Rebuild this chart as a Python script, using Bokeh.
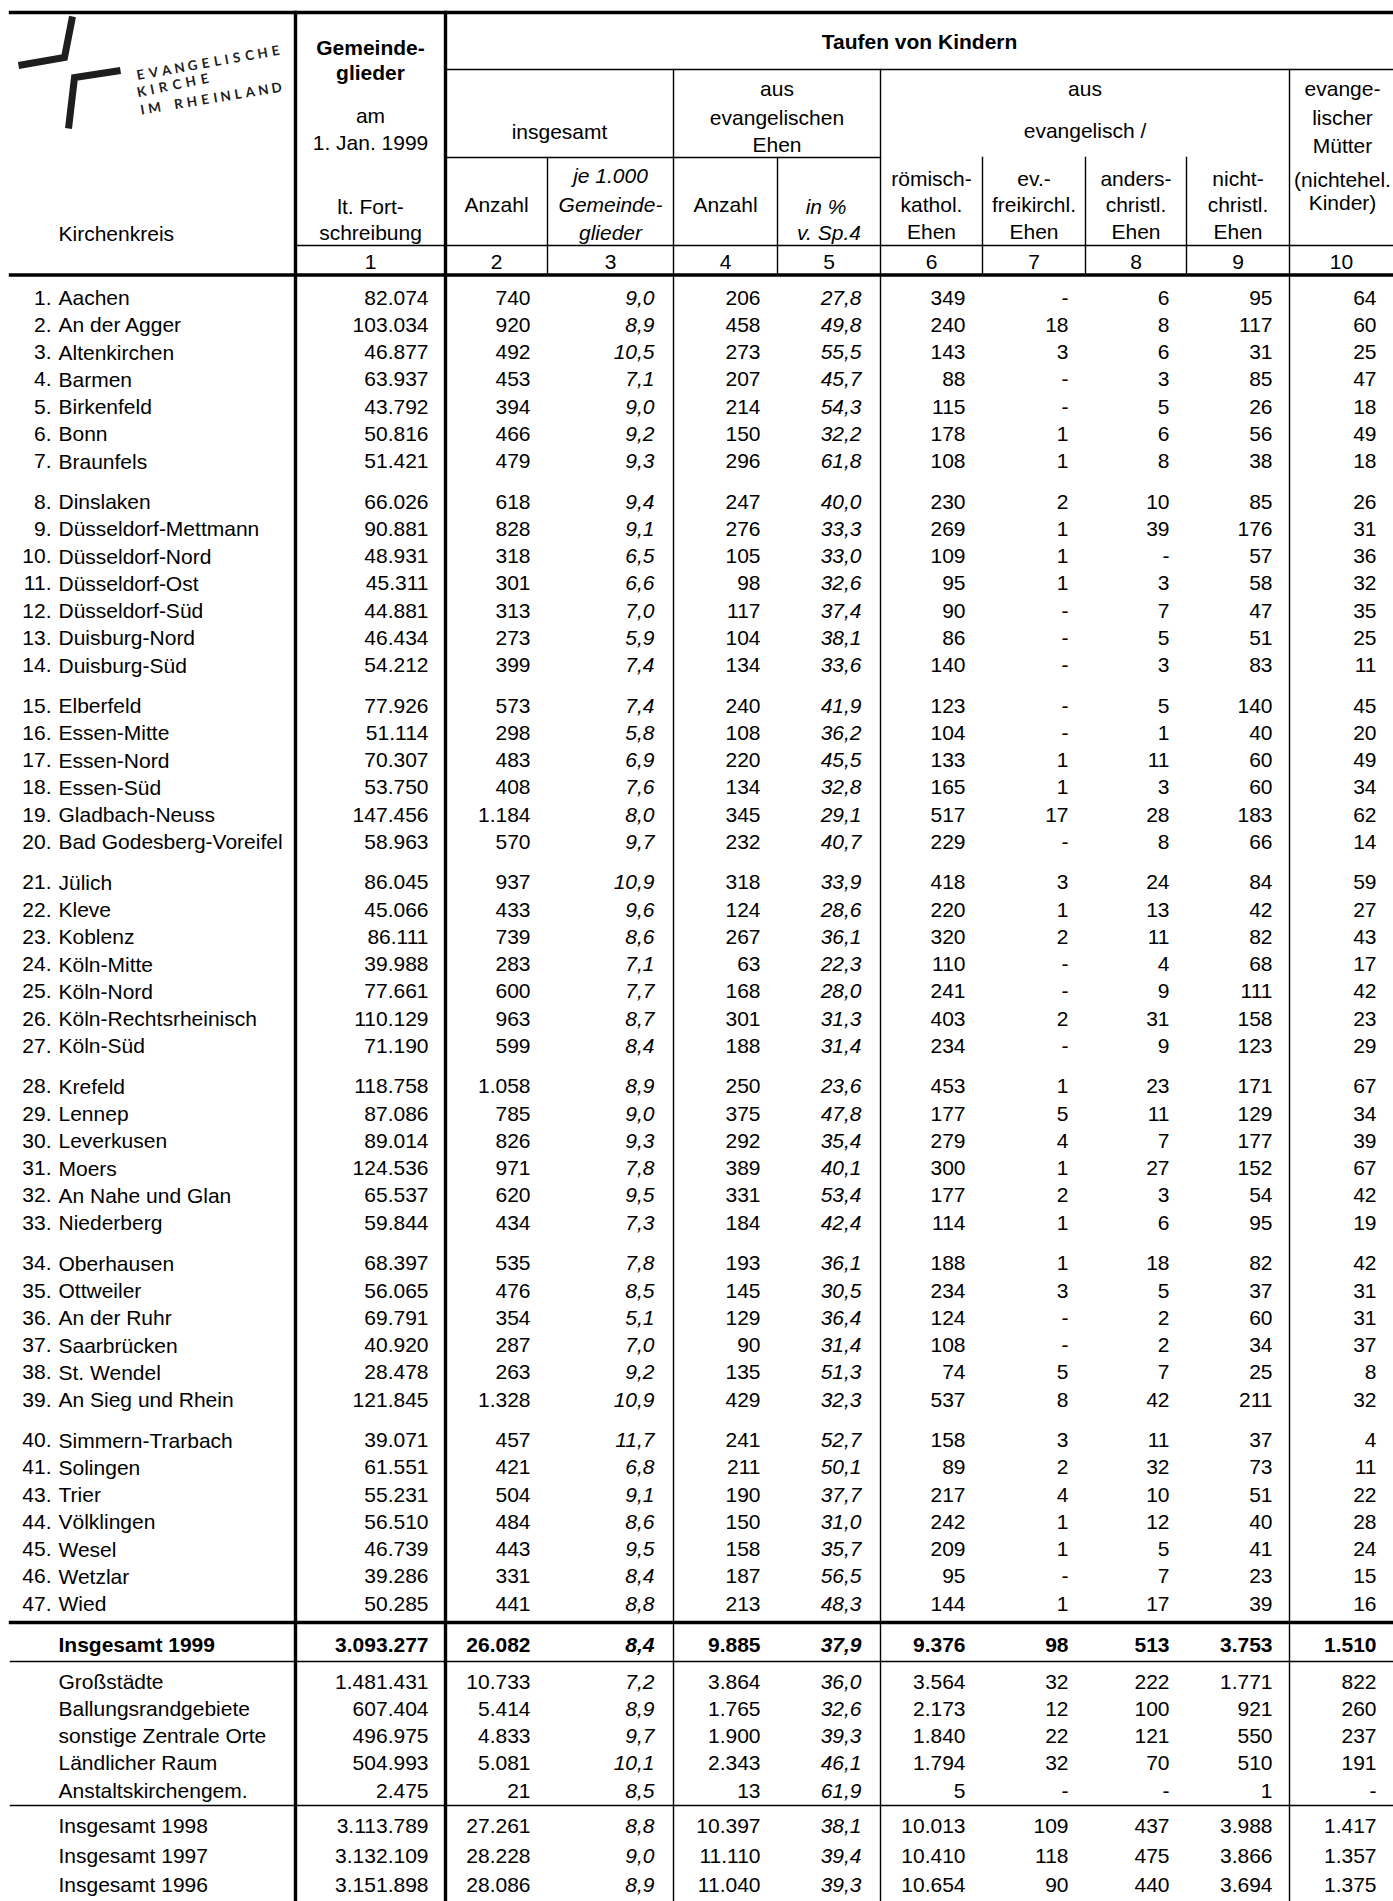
import math
from bokeh.plotting import figure
from bokeh.models import Range1d, ColumnDataSource
from bokeh.core.properties import value
from bokeh.embed import file_html
from bokeh.resources import INLINE

# ---------------- data ----------------
kreis_nr = [1, 2, 3, 4, 5, 6, 7, 8, 9, 10, 11, 12, 13, 14, 15, 16, 17, 18, 19, 20,
            21, 22, 23, 24, 25, 26, 27, 28, 29, 30, 31, 32, 33, 34, 35, 36, 37, 38, 39,
            40, 41, 43, 44, 45, 46, 47]
kreis_name = ["Aachen", "An der Agger", "Altenkirchen", "Barmen", "Birkenfeld", "Bonn", "Braunfels",
              "Dinslaken", "Düsseldorf-Mettmann", "Düsseldorf-Nord", "Düsseldorf-Ost", "Düsseldorf-Süd",
              "Duisburg-Nord", "Duisburg-Süd",
              "Elberfeld", "Essen-Mitte", "Essen-Nord", "Essen-Süd", "Gladbach-Neuss", "Bad Godesberg-Voreifel",
              "Jülich", "Kleve", "Koblenz", "Köln-Mitte", "Köln-Nord", "Köln-Rechtsrheinisch", "Köln-Süd",
              "Krefeld", "Lennep", "Leverkusen", "Moers", "An Nahe und Glan", "Niederberg",
              "Oberhausen", "Ottweiler", "An der Ruhr", "Saarbrücken", "St. Wendel", "An Sieg und Rhein",
              "Simmern-Trarbach", "Solingen", "Trier", "Völklingen", "Wesel", "Wetzlar", "Wied"]
gruppen_groessen = [7, 7, 6, 7, 6, 6, 7]

gemeindeglieder = [82074, 103034, 46877, 63937, 43792, 50816, 51421,
                   66026, 90881, 48931, 45311, 44881, 46434, 54212,
                   77926, 51114, 70307, 53750, 147456, 58963,
                   86045, 45066, 86111, 39988, 77661, 110129, 71190,
                   118758, 87086, 89014, 124536, 65537, 59844,
                   68397, 56065, 69791, 40920, 28478, 121845,
                   39071, 61551, 55231, 56510, 46739, 39286, 50285]
taufen_insgesamt = [740, 920, 492, 453, 394, 466, 479,
                    618, 828, 318, 301, 313, 273, 399,
                    573, 298, 483, 408, 1184, 570,
                    937, 433, 739, 283, 600, 963, 599,
                    1058, 785, 826, 971, 620, 434,
                    535, 476, 354, 287, 263, 1328,
                    457, 421, 504, 484, 443, 331, 441]
taufen_je_1000 = [9.0, 8.9, 10.5, 7.1, 9.0, 9.2, 9.3,
                  9.4, 9.1, 6.5, 6.6, 7.0, 5.9, 7.4,
                  7.4, 5.8, 6.9, 7.6, 8.0, 9.7,
                  10.9, 9.6, 8.6, 7.1, 7.7, 8.7, 8.4,
                  8.9, 9.0, 9.3, 7.8, 9.5, 7.3,
                  7.8, 8.5, 5.1, 7.0, 9.2, 10.9,
                  11.7, 6.8, 9.1, 8.6, 9.5, 8.4, 8.8]
ev_ehen_anzahl = [206, 458, 273, 207, 214, 150, 296,
                  247, 276, 105, 98, 117, 104, 134,
                  240, 108, 220, 134, 345, 232,
                  318, 124, 267, 63, 168, 301, 188,
                  250, 375, 292, 389, 331, 184,
                  193, 145, 129, 90, 135, 429,
                  241, 211, 190, 150, 158, 187, 213]
ev_ehen_prozent = [27.8, 49.8, 55.5, 45.7, 54.3, 32.2, 61.8,
                   40.0, 33.3, 33.0, 32.6, 37.4, 38.1, 33.6,
                   41.9, 36.2, 45.5, 32.8, 29.1, 40.7,
                   33.9, 28.6, 36.1, 22.3, 28.0, 31.3, 31.4,
                   23.6, 47.8, 35.4, 40.1, 53.4, 42.4,
                   36.1, 30.5, 36.4, 31.4, 51.3, 32.3,
                   52.7, 50.1, 37.7, 31.0, 35.7, 56.5, 48.3]
rk_ehen = [349, 240, 143, 88, 115, 178, 108,
           230, 269, 109, 95, 90, 86, 140,
           123, 104, 133, 165, 517, 229,
           418, 220, 320, 110, 241, 403, 234,
           453, 177, 279, 300, 177, 114,
           188, 234, 124, 108, 74, 537,
           158, 89, 217, 242, 209, 95, 144]
freikirchl_ehen = [None, 18, 3, None, None, 1, 1,
                   2, 1, 1, 1, None, None, None,
                   None, None, 1, 1, 17, None,
                   3, 1, 2, None, None, 2, None,
                   1, 5, 4, 1, 2, 1,
                   1, 3, None, None, 5, 8,
                   3, 2, 4, 1, 1, None, 1]
anderschristl_ehen = [6, 8, 6, 3, 5, 6, 8,
                      10, 39, None, 3, 7, 5, 3,
                      5, 1, 11, 3, 28, 8,
                      24, 13, 11, 4, 9, 31, 9,
                      23, 11, 7, 27, 3, 6,
                      18, 5, 2, 2, 7, 42,
                      11, 32, 10, 12, 5, 7, 17]
nichtchristl_ehen = [95, 117, 31, 85, 26, 56, 38,
                     85, 176, 57, 58, 47, 51, 83,
                     140, 40, 60, 60, 183, 66,
                     84, 42, 82, 68, 111, 158, 123,
                     171, 129, 177, 152, 54, 95,
                     82, 37, 60, 34, 25, 211,
                     37, 73, 51, 40, 41, 23, 39]
nichtehel_kinder = [64, 60, 25, 47, 18, 49, 18,
                    26, 31, 36, 32, 35, 25, 11,
                    45, 20, 49, 34, 62, 14,
                    59, 27, 43, 17, 42, 23, 29,
                    67, 34, 39, 67, 42, 19,
                    42, 31, 31, 37, 8, 32,
                    4, 11, 22, 28, 24, 15, 16]

summe_labels = ["Insgesamt 1999", "Großstädte", "Ballungsrandgebiete", "sonstige Zentrale Orte",
                "Ländlicher Raum", "Anstaltskirchengem.", "Insgesamt 1998", "Insgesamt 1997",
                "Insgesamt 1996"]
summe_gemeindeglieder = [3093277, 1481431, 607404, 496975, 504993, 2475, 3113789, 3132109, 3151898]
summe_taufen = [26082, 10733, 5414, 4833, 5081, 21, 27261, 28228, 28086]
summe_je_1000 = [8.4, 7.2, 8.9, 9.7, 10.1, 8.5, 8.8, 9.0, 8.9]
summe_ev_anzahl = [9885, 3864, 1765, 1900, 2343, 13, 10397, 11110, 11040]
summe_ev_prozent = [37.9, 36.0, 32.6, 39.3, 46.1, 61.9, 38.1, 39.4, 39.3]
summe_rk = [9376, 3564, 2173, 1840, 1794, 5, 10013, 10410, 10654]
summe_freikirchl = [98, 32, 12, 22, 32, None, 109, 118, 90]
summe_anderschristl = [513, 222, 100, 121, 70, None, 437, 475, 440]
summe_nichtchristl = [3753, 1771, 921, 550, 510, 1, 3988, 3866, 3694]
summe_nichtehel = [1510, 822, 260, 237, 191, None, 1417, 1357, 1375]

# ---------------- layout ----------------
FONT = "Liberation Sans"
FS = "21px"
COL = [295, 445, 547, 673, 777, 880, 982, 1085, 1186, 1289, 1393]
LEFT = 10
TOP = 12
HDR_BOTTOM = 274.5
BOTTOM = 1901
W, H = 1393, 1901

def fmt_int(v):
    return "-" if v is None else f"{v:,}".replace(",", ".")

def fmt_dec(v):
    return f"{v:.1f}".replace(".", ",")

p = figure(width=W, height=H, x_range=Range1d(0, W), y_range=Range1d(H, 0),
           output_backend="svg", toolbar_location=None, min_border=0,
           x_axis_location=None, y_axis_location=None)
p.grid.visible = False
p.outline_line_color = None
p.background_fill_color = "white"
p.border_fill_color = "white"

items = {}
def add(x, y, t, align="center", style="normal"):
    items.setdefault((align, style), []).append((x, y, t))

# header
add(58, 233, "Kirchenkreis", "left")
c1 = (COL[0] + COL[1]) / 2
add(c1, 47, "Gemeinde-", style="bold")
add(c1, 72, "glieder", style="bold")
for t, y in [("am", 115), ("1. Jan. 1999", 142), ("lt. Fort-", 206), ("schreibung", 232)]:
    add(c1, y, t)
add((COL[1] + COL[-1]) / 2, 41, "Taufen von Kindern", style="bold")
add((COL[1] + COL[3]) / 2, 131, "insgesamt")
for t, y in [("aus", 88), ("evangelischen", 116.5), ("Ehen", 144)]:
    add((COL[3] + COL[5]) / 2, y, t)
add((COL[1] + COL[2]) / 2, 204, "Anzahl")
for t, y in [("je 1.000", 175), ("Gemeinde-", 203.5), ("glieder", 232)]:
    add((COL[2] + COL[3]) / 2, y, t, style="italic")
add((COL[3] + COL[4]) / 2, 204, "Anzahl")
for t, y in [("in  %", 206), ("v. Sp.4", 232)]:
    add((COL[4] + COL[5]) / 2, y, t, style="italic")
for t, y in [("aus", 88), ("evangelisch /", 130)]:
    add((COL[5] + COL[9]) / 2, y, t)
sub_heads = [["römisch-", "kathol.", "Ehen"], ["ev.-", "freikirchl.", "Ehen"],
             ["anders-", "christl.", "Ehen"], ["nicht-", "christl.", "Ehen"]]
for k, lines in enumerate(sub_heads):
    cx = (COL[5 + k] + COL[6 + k]) / 2
    for t, y in zip(lines, [178, 204, 231]):
        add(cx, y, t)
for t, y in [("evange-", 88), ("lischer", 116.5), ("Mütter", 144.5), ("(nichtehel.", 178.5), ("Kinder)", 202)]:
    add((COL[9] + COL[10]) / 2 + 1, y, t)
for k in range(10):
    add((COL[k] + COL[k + 1]) / 2, 261, str(k + 1))

# body rows
row_y = []
y = 297.0
for g in gruppen_groessen:
    for _ in range(g):
        row_y.append(y)
        y += 27.25
    y += 13.3

def right_edge(k, italic=False):
    return COL[k + 1] - (19 if italic else 17)

cols_main = [gemeindeglieder, taufen_insgesamt, taufen_je_1000, ev_ehen_anzahl, ev_ehen_prozent,
             rk_ehen, freikirchl_ehen, anderschristl_ehen, nichtchristl_ehen, nichtehel_kinder]
for i, yy in enumerate(row_y):
    add(51, yy, f"{kreis_nr[i]}.", "right")
    add(58, yy, kreis_name[i], "left")
    for k, col in enumerate(cols_main):
        italic = k in (2, 4)
        txt = fmt_dec(col[i]) if italic else fmt_int(col[i])
        add(right_edge(k, italic), yy, txt, "right", "italic" if italic else "normal")

summe_y = [1644, 1681, 1708, 1735, 1762, 1790, 1825, 1855, 1884]
cols_sum = [summe_gemeindeglieder, summe_taufen, summe_je_1000, summe_ev_anzahl, summe_ev_prozent,
            summe_rk, summe_freikirchl, summe_anderschristl, summe_nichtchristl, summe_nichtehel]
for i, yy in enumerate(summe_y):
    bold = i == 0
    add(58, yy, summe_labels[i], "left", "bold" if bold else "normal")
    for k, col in enumerate(cols_sum):
        italic = k in (2, 4)
        txt = fmt_dec(col[i]) if italic else fmt_int(col[i])
        st = ("bold " if bold else "") + ("italic" if italic else "")
        st = st.strip() or "normal"
        add(right_edge(k, italic), yy, txt, "right", st)

for (align, style), lst in items.items():
    src = ColumnDataSource(dict(x=[a[0] for a in lst], y=[a[1] for a in lst], t=[a[2] for a in lst]))
    p.text(x="x", y="y", text="t", source=src, text_align=align, text_baseline="middle",
           text_font=value(FONT), text_font_size=FS, text_font_style=style, text_color="black")

# rules
thick = [(LEFT, TOP, COL[-1], TOP), (COL[0], TOP, COL[0], BOTTOM), (COL[1], TOP, COL[1], BOTTOM),
         (LEFT, HDR_BOTTOM, COL[-1], HDR_BOTTOM), (LEFT, 1622, COL[-1], 1622)]
thin = [(COL[1], 69, COL[-1], 69), (COL[1], 157, COL[5], 157), (COL[0], 245, COL[-1], 245),
        (LEFT, 1661, COL[-1], 1661), (LEFT, 1805, COL[-1], 1805)]
for k in (2, 4, 6, 7, 8):
    thin.append((COL[k], 157, COL[k], HDR_BOTTOM))
for k in (3, 5, 9):
    thin.append((COL[k], 69, COL[k], BOTTOM))
for segs, w in [(thick, 3.4), (thin, 1.4)]:
    p.segment(x0=[s[0] for s in segs], y0=[s[1] for s in segs], x1=[s[2] for s in segs],
              y1=[s[3] for s in segs], line_color="black", line_width=w, line_cap="square")

# logo
logo_strokes = [[(72, 16), (64, 57), (18, 65)], [(120, 70), (74, 77), (68, 128)]]
for st in logo_strokes:
    p.line([q[0] for q in st], [q[1] for q in st], line_color="#1e1e1e", line_width=7,
           line_join="miter", line_cap="butt")
logo_text = [("EVANGELISCHE", (140, 74), (275, 50)),
             ("KIRCHE", (141, 91), (204, 78)),
             ("IM RHEINLAND", (142, 109), (276, 87)),
             ]
lx, ly, lt, la = [], [], [], []
weight = {"I": 0.55, " ": 0.7, "M": 1.25, "L": 0.85}
for word, (x0, y0), (x1, y1) in logo_text:
    ws = [weight.get(c, 1.0) for c in word]
    cum = [0.0]
    for j in range(1, len(word)):
        cum.append(cum[-1] + (ws[j - 1] + ws[j]) / 2)
    tot = cum[-1]
    ang = math.atan2(y0 - y1, x1 - x0)
    for j, ch in enumerate(word):
        if ch == " ":
            continue
        f = cum[j] / tot
        lx.append(x0 + (x1 - x0) * f)
        ly.append(y0 + (y1 - y0) * f)
        lt.append(ch)
        la.append(ang)
p.text(x=lx, y=ly, text=lt, angle=la, text_align="center", text_baseline="alphabetic",
       text_font=value("Lato"), text_font_size="13.5px", text_font_style="bold", text_color="#1e1e1e")

open("out.html", "w").write(file_html(p, INLINE))
